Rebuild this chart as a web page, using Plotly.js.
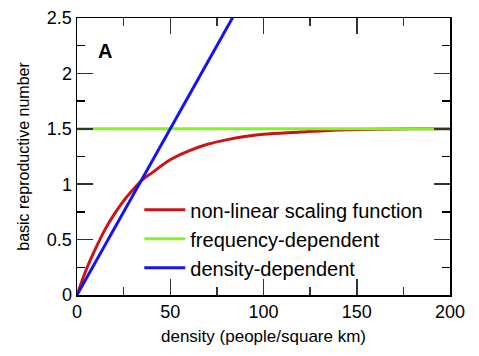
<!DOCTYPE html>
<html>
<head>
<meta charset="utf-8">
<script src="https://cdn.plot.ly/plotly-3.0.1.min.js"></script>
<style>html,body{margin:0;padding:0;background:#fff;}#chart{width:479px;height:356px;}</style>
</head>
<body>
<div id="chart"></div>
<script>
// Data
const densityCurve = [0, 5, 10, 15, 20, 25, 30, 35, 40, 50, 60, 70, 80, 90, 100, 120, 140, 160, 180, 200];
const nonLinearR0 = [0, 0.23, 0.42, 0.59, 0.73, 0.85, 0.95, 1.04, 1.10, 1.22, 1.30, 1.36, 1.40, 1.43, 1.45, 1.47, 1.49, 1.495, 1.5, 1.5];
const densityFreq = [0, 200];
const frequencyR0 = [1.5, 1.5];
const densityLin = [0, 100];
const densityR0 = [0, 3.0];
const seriesNames = ["non-linear scaling function", "frequency-dependent", "density-dependent"];
const xTicks = [0, 50, 100, 150, 200];
const yTicks = [0, 0.5, 1, 1.5, 2, 2.5];

const font = "'Liberation Sans', Arial, Helvetica, sans-serif";

const traces = [
  {x: densityCurve, y: nonLinearR0, name: seriesNames[0], mode: "lines",
   line: {color: "#cc1414", width: 3, shape: "spline"}},
  {x: densityFreq, y: frequencyR0, name: seriesNames[1], mode: "lines",
   line: {color: "#80f820", width: 3}},
  {x: densityLin, y: densityR0, name: seriesNames[2], mode: "lines",
   line: {color: "#1414f0", width: 3}}
];

const axisCommon = {
  showgrid: false, zeroline: false, showline: true, linecolor: "#000", linewidth: 1.5,
  mirror: "allticks", ticks: "inside", ticklen: 16, tickwidth: 1.5, tickcolor: "#333",
  tickfont: {family: font, size: 18, color: "#000"}
};

const layout = {
  width: 479, height: 356,
  margin: {l: 77, r: 29, t: 18, b: 61},
  paper_bgcolor: "#fff", plot_bgcolor: "#fff",
  showlegend: true,
  legend: {x: 0.167, y: 0.378, xanchor: "left", yanchor: "top", bgcolor: "rgba(0,0,0,0)",
           font: {family: font, size: 20, color: "#000"}, tracegroupgap: 0, itemwidth: 41},
  xaxis: Object.assign({}, axisCommon, {
    range: [0, 200], tickvals: xTicks, ticktext: xTicks.map(String),
    minor: {dtick: 25, tick0: 0, ticks: "inside", ticklen: 8, tickwidth: 1.5, tickcolor: "#333", showgrid: false},
    title: {text: "density (people/square km)", font: {family: font, size: 17, color: "#000"}, standoff: 9}
  }),
  yaxis: Object.assign({}, axisCommon, {
    range: [0, 2.5], tickvals: yTicks, ticktext: yTicks.map(String),
    minor: {dtick: 0.25, tick0: 0, ticks: "inside", ticklen: 8, tickwidth: 1.5, tickcolor: "#000", showgrid: false},
    title: {text: "basic reproductive number", font: {family: font, size: 16, color: "#000"}, standoff: 13}
  }),
  annotations: [{
    text: "<b>A</b>", xref: "paper", yref: "paper", x: 0.076, y: 0.88,
    xanchor: "center", yanchor: "middle",
    showarrow: false, font: {family: font, size: 20, color: "#000"}
  }]
};

Plotly.newPlot("chart", traces, layout, {staticPlot: true, displayModeBar: false});
</script>
</body>
</html>
